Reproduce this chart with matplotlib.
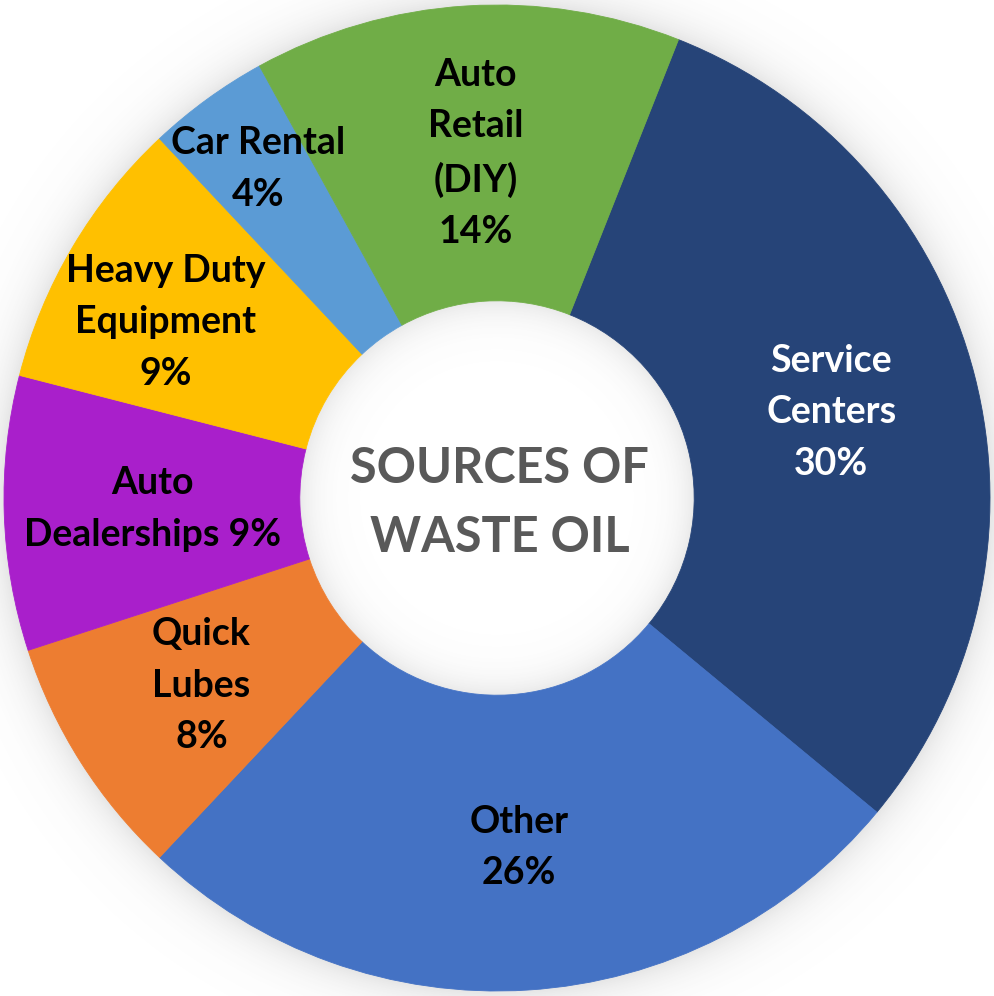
import numpy as np
import matplotlib.pyplot as plt

# data (clockwise from Service Centers)
labels = ["Service\nCenters", "Other", "Quick\nLubes", "Auto\nDealerships", "Heavy Duty\nEquipment", "Car Rental", "Auto\nRetail\n(DIY)"]
shares = [30, 26, 8, 9, 9, 4, 14]
colors = ["#264478", "#4472C4", "#ED7D31", "#A91FCB", "#FFC000", "#5B9BD5", "#70AD47"]
text_colors = ["white", "black", "black", "black", "black", "black", "black"]
title = "SOURCES OF\nWASTE OIL"

W, H = 994, 996
R_px = 493.0
cx, cy = 497.0, 498.0
inner = 0.40

fig = plt.figure(figsize=(W / 100, H / 100), dpi=100)
ax = fig.add_axes([0, 0, 1, 1])
x0, x1 = -cx / R_px, (W - cx) / R_px
y0, y1 = -(H - cy) / R_px, cy / R_px

# soft shadows: outside the ring and inside the hole
xx, yy = np.meshgrid(np.linspace(x0, x1, W), np.linspace(y1, y0, H))
rr = np.hypot(xx, yy)
alpha = np.zeros_like(rr)
out = rr >= 1.0
alpha[out] = 0.16 * np.exp(-(rr[out] - 1.0) / 0.04)
hole = rr <= inner
alpha[hole] = 0.13 * np.exp(-(inner - rr[hole]) / 0.035)
img = np.zeros((H, W, 4))
img[..., :3] = 0.35
img[..., 3] = alpha
ax.imshow(img, extent=(x0, x1, y0, y1), zorder=0, interpolation="bilinear")

startangle = 90 - 21.6
wedges, _ = ax.pie(shares, colors=colors, startangle=startangle, counterclock=False,
                   radius=1.0, wedgeprops=dict(width=1 - inner, linewidth=0.6))
for w, c in zip(wedges, colors):
    w.set_edgecolor(c)
    w.set_zorder(2)
ax.set_xlim(x0, x1)
ax.set_ylim(y0, y1)
ax.axis("off")

# label radius tweaks (fraction of outer radius)
label_r = [0.70, 0.71, 0.71, 0.70, 0.70, 0.825, 0.70]
label_dx = [0, 0, 0, 0, -0.07, 0, 0]
for w, lab, s, tc, r, dx in zip(wedges, labels, shares, text_colors, label_r, label_dx):
    mid = np.deg2rad((w.theta1 + w.theta2) / 2)
    x, y = r * np.cos(mid) + dx, r * np.sin(mid)
    txt = f"{lab}\n{s}%"
    if lab.startswith("Auto\nDeal"):
        txt = f"Auto\nDealerships {s}%"
    ax.text(x, y, txt, ha="center", va="center", fontsize=27, fontweight="bold",
            family="Lato", color=tc, linespacing=1.62, zorder=3)

ax.text(0.005, -0.01, title, ha="center", va="center", fontsize=35, fontweight="bold",
        family="Lato", color="#595959", linespacing=1.65, zorder=3)

fig.savefig("out.png", dpi=100)
